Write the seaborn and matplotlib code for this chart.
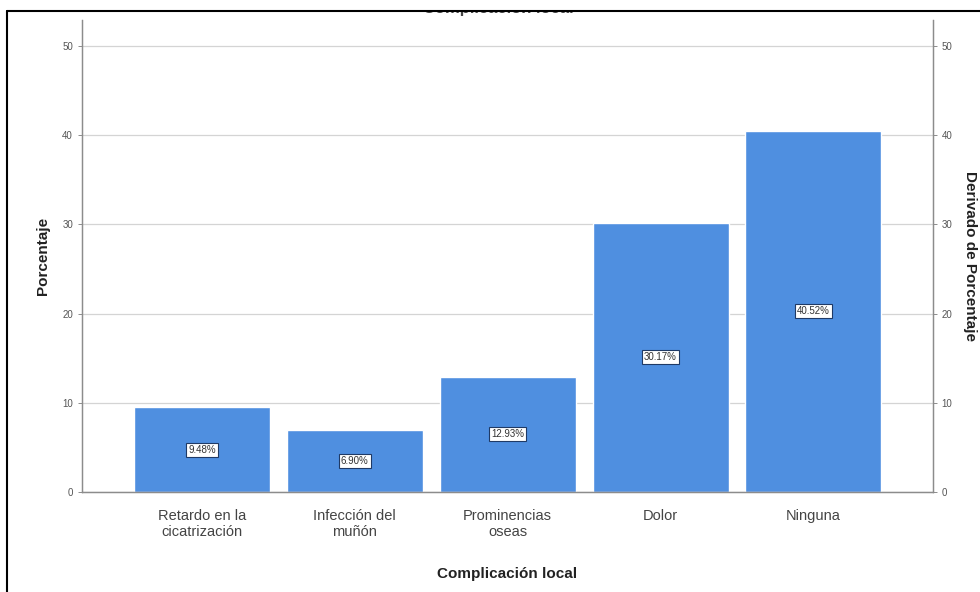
import seaborn as sns
import matplotlib.pyplot as plt
import matplotlib as mpl
import pandas as pd

categorias = [
    "Retardo en la\ncicatrización",
    "Infección del\nmuñón",
    "Prominencias\noseas",
    "Dolor",
    "Ninguna",
]
porcentajes = [9.48, 6.90, 12.93, 30.17, 40.52]
etiquetas = ["9.48%", "6.90%", "12.93%", "30.17%", "40.52%"]
yticks = [0, 10, 20, 30, 40, 50]

df = pd.DataFrame({"categoria": categorias, "porcentaje": porcentajes})

sns.set_theme(style="white")
mpl.rcParams.update({
    "font.family": ["Liberation Sans", "DejaVu Sans"],
    "axes.edgecolor": "#8c8c8c",
    "axes.linewidth": 0.9,
})

fig = plt.figure(figsize=(9.8, 5.92), dpi=100)
ax = fig.add_axes([0.0837, 0.169, 0.868, 0.797])

sns.barplot(data=df, x="categoria", y="porcentaje", color="#4f8fe0",
            saturation=1, width=0.89, ax=ax, zorder=2)

ax.set_xlim(-0.785, 4.78)
ax.set_ylim(0, 52.9)
ax.set_yticks(yticks)
ax.set_yticklabels([str(t) for t in yticks], fontsize=7, color="#555555")
ax.yaxis.grid(True, color="#d4d4d4", linewidth=0.9, zorder=0)
ax.set_axisbelow(True)
ax.tick_params(axis="y", length=3, width=0.7, color="#8c8c8c", direction="out", left=True)
ax.tick_params(axis="x", length=0, labelsize=10.5, labelcolor="#444444", pad=12)
ax.spines["top"].set_visible(False)

ax.set_xlabel("Complicación local", fontsize=11, fontweight="bold", color="#222222", labelpad=20)
ax.set_ylabel("Porcentaje", fontsize=11, fontweight="bold", color="#222222", labelpad=9)

# eje derecho
ax2 = ax.twinx()
ax2.set_ylim(ax.get_ylim())
ax2.set_yticks(yticks)
ax2.set_yticklabels([str(t) for t in yticks], fontsize=7, color="#555555")
ax2.tick_params(axis="y", length=3, width=0.7, color="#8c8c8c", direction="out", right=True)
ax2.spines["top"].set_visible(False)
ax2.set_ylabel("Derivado de Porcentaje", fontsize=11, fontweight="bold", color="#222222",
               rotation=270, labelpad=18)

# etiquetas de barras
for i, (v, t) in enumerate(zip(porcentajes, etiquetas)):
    ax.text(i, v / 2, t, ha="center", va="center", fontsize=7, color="#333333", zorder=5,
            bbox=dict(boxstyle="square,pad=0.2", facecolor="white", edgecolor="#1f3a66",
                      linewidth=0.8))

# titulo recortado y marco de la captura
fig.text(0.508, 1 - 9 / 592, "Complicación local", ha="center", va="center",
         fontsize=12, fontweight="bold", color="#444444")
fig.patches.append(mpl.patches.Rectangle((0, 1 - 11 / 592), 1, 11 / 592, transform=fig.transFigure,
                                         facecolor="white", edgecolor="none", zorder=10))
fig.add_artist(mpl.lines.Line2D([7 / 980, 1], [1 - 11 / 592] * 2, color="black", linewidth=1.5, zorder=11))
fig.add_artist(mpl.lines.Line2D([7 / 980] * 2, [0, 1 - 11 / 592], color="black", linewidth=1.5, zorder=11))

fig.savefig("out.png", dpi=100)
